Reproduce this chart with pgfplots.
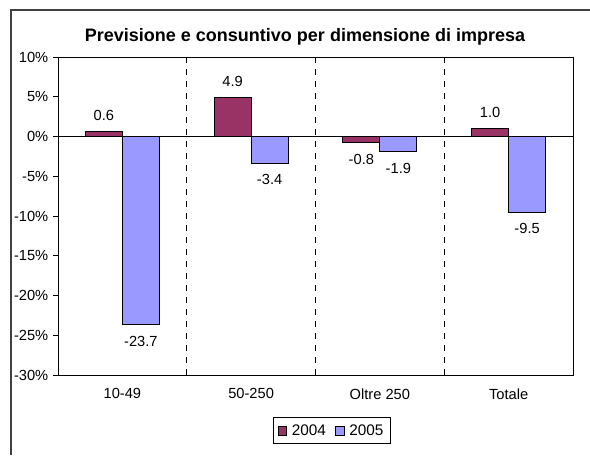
\documentclass[border=0pt]{standalone}
\usepackage{fontspec}
\setmainfont{Liberation Sans}
\usepackage{pgfplots}
\pgfplotsset{compat=1.18}
\definecolor{c2004}{HTML}{993366}
\definecolor{c2005}{HTML}{9999FF}
\definecolor{framegray}{HTML}{404040}

\begin{document}
\begin{tikzpicture}[x=0.75pt,y=0.75pt]
\useasboundingbox (0,0) rectangle (590,455);
\draw[framegray, line width=1.1pt] (11,0) -- (11,445) -- (590,445);
\node[font=\bfseries\fontsize{13.5}{16}\selectfont] at (305,418) {Previsione e consuntivo per dimensione di impresa};
\begin{axis}[
  at={(43.5pt,60pt)}, anchor=south west,
  width=386.25pt, height=238.5pt, scale only axis,
  axis line style={black, line width=0.75pt},
  xmin=-0.5, xmax=3.5, ymin=-30, ymax=10,
  ybar=0pt, bar width=27.75pt,
  xtick={0,1,2,3},
  xticklabels={10-49,50-250,Oltre 250,Totale},
  xtick pos=left, ytick pos=left,
  x tick style={draw=none},
  xticklabel style={yshift=-3pt},
  extra x ticks={0.5,1.5,2.5},
  extra x tick labels={},
  extra x tick style={grid=major, tick align=inside, major tick length=3.75pt,
    tick style={draw=black, line width=0.75pt},
    major grid style={black, line width=0.75pt, dash pattern=on 4.5pt off 4.5pt}},
  extra y ticks={0},
  extra y tick labels={},
  extra y tick style={grid=major, major tick length=0pt,
    major grid style={black, line width=0.75pt, solid}},
  ytick={-30,-25,...,10},
  yticklabel={\pgfmathprintnumber{\tick}\%},
  y tick style={black, line width=0.75pt},
  tick align=outside, major tick length=3.75pt,
  /pgf/number format/assume math mode=true,
  tick label style={font=\fontsize{11}{13}\selectfont},
  nodes near coords={\pgfmathprintnumber[fixed,fixed zerofill,precision=1]{\pgfplotspointmeta}},
  nodes near coords style={font=\fontsize{11}{13}\selectfont, inner ysep=8pt, inner xsep=1pt, text=black},
  legend style={at={(0.532,-0.176)}, anchor=center, legend columns=2,
    draw=black, line width=0.75pt, font=\fontsize{11.5}{13}\selectfont,
    inner xsep=3pt, inner ysep=3pt,
    /tikz/every odd column/.append style={column sep=1.5pt},
    /tikz/every even column/.append style={column sep=5pt}},
  legend image code/.code={\draw[#1, line width=0.6pt] (0pt,-3.2pt) rectangle (6.4pt,3.2pt);},
]
\addplot[fill=c2004, draw=black, line width=0.75pt] coordinates {(0,0.6) (1,4.9) (2,-0.8) (3,1.0)};
\addplot[fill=c2005, draw=black, line width=0.75pt] coordinates {(0,-23.7) (1,-3.4) (2,-1.9) (3,-9.5)};
\legend{2004,2005}
\end{axis}
\end{tikzpicture}
\end{document}
